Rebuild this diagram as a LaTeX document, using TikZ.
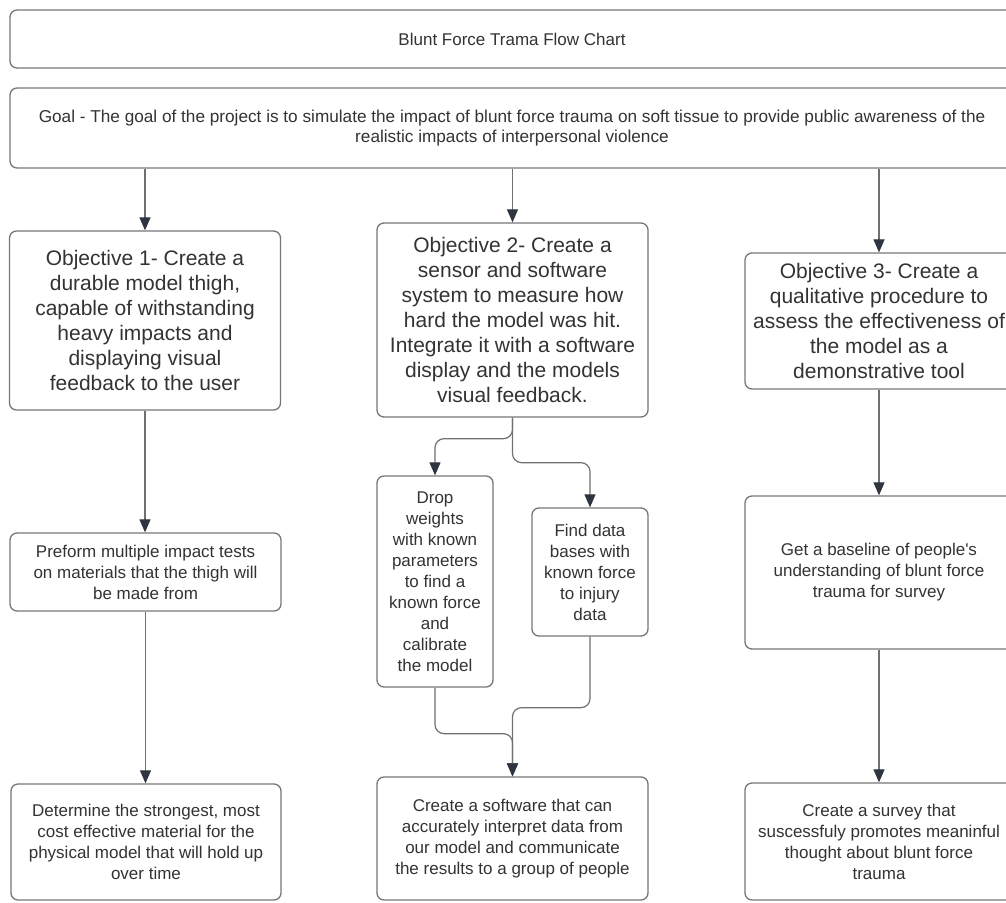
\documentclass[tikz,border=0pt]{standalone}
\usepackage{fontspec}
\setmainfont{Liberation Sans}[Ligatures=TeXOff]
\usetikzlibrary{arrows.meta}
\definecolor{txt}{HTML}{333333}
\definecolor{boxline}{HTML}{777777}
\definecolor{arrline}{HTML}{707070}
\definecolor{tipcol}{HTML}{2F3540}
\tikzset{
  box/.style={draw=boxline, line width=1.3pt, rounded corners=7pt, align=center,
    text=txt, inner sep=2pt, font=\fontsize{17}{21}\selectfont},
  objbox/.style={box, font=\fontsize{21}{25}\selectfont},
  arr/.style={draw=arrline, line width=1.2pt, rounded corners=9pt,
    -{Triangle[width=11pt,length=13pt,color=tipcol]}},
}
\begin{document}
\begin{tikzpicture}[x=1pt,y=-1pt]
\useasboundingbox[fill=white] (0,0) rectangle (1006,902);

\node[box, minimum width=1004pt, minimum height=58pt] (title) at (512,39) {Blunt Force Trama Flow Chart};
\node[box, minimum width=1004pt, minimum height=80pt, font=\fontsize{17.2}{20}\selectfont] (goal) at (512,128)
  {Goal - The goal of the project is to simulate the impact of blunt force trauma on soft tissue to provide public awareness of the\\realistic impacts of interpersonal violence};

\node[objbox, minimum width=271pt, minimum height=179pt] (obj1) at (145,320.5)
  {Objective 1- Create a\\durable model thigh,\\capable of withstanding\\heavy impacts and\\displaying visual\\feedback to the user};
\node[objbox, minimum width=271pt, minimum height=194pt] (obj2) at (512.5,320)
  {Objective 2- Create a\\sensor and software\\system to measure how\\hard the model was hit.\\Integrate it with a software\\display and the models\\visual feedback.};
\node[objbox, minimum width=268pt, minimum height=136pt] (obj3) at (879,321)
  {Objective 3- Create a\\qualitative procedure to\\assess the effectiveness of\\the model as a\\demonstrative tool};

\node[box, minimum width=271pt, minimum height=78pt] (pre) at (145.5,572)
  {Preform multiple impact tests\\on materials that the thigh will\\be made from};
\node[box, minimum width=116pt, minimum height=211pt] (drop) at (435,581.5)
  {Drop\\weights\\with known\\parameters\\to find a\\known force\\and\\calibrate\\the model};
\node[box, minimum width=116pt, minimum height=128pt] (find) at (590,572)
  {Find data\\bases with\\known force\\to injury\\data};
\node[box, minimum width=268pt, minimum height=153pt] (get) at (879,572.5)
  {Get a baseline of people's\\understanding of blunt force\\trauma for survey};

\node[box, minimum width=270pt, minimum height=116pt] (det) at (146,842)
  {Determine the strongest, most\\cost effective material for the\\physical model that will hold up\\over time};
\node[box, minimum width=271pt, minimum height=123pt] (soft) at (512.5,838.5)
  {Create a software that can\\accurately interpret data from\\our model and communicate\\the results to a group of people};
\node[box, minimum width=268pt, minimum height=117pt] (surv) at (879,841.5)
  {Create a survey that\\suscessfuly promotes meaninful\\thought about blunt force\\trauma};

\draw[arr] (goal.south -| obj1.north) -- (obj1.north);
\draw[arr] (goal.south -| obj2.north) -- (obj2.north);
\draw[arr] (goal.south -| obj3.north) -- (obj3.north);
\draw[arr] (obj1.south) -- (obj1.south |- pre.north);
\draw[arr] (pre.south) -- (pre.south |- det.north);
\draw[arr] (obj3.south) -- (get.north);
\draw[arr] (get.south) -- (surv.north);
\draw[arr] (obj2.south) -- ++(0,21) -| (drop.north);
\draw[arr] (obj2.south) -- ++(0,45) -| (find.north);
\draw[arr] (drop.south) -- ++(0,46) -| (soft.north);
\draw[arr] (find.south) -- ++(0,71) -| (soft.north);
\end{tikzpicture}
\end{document}
